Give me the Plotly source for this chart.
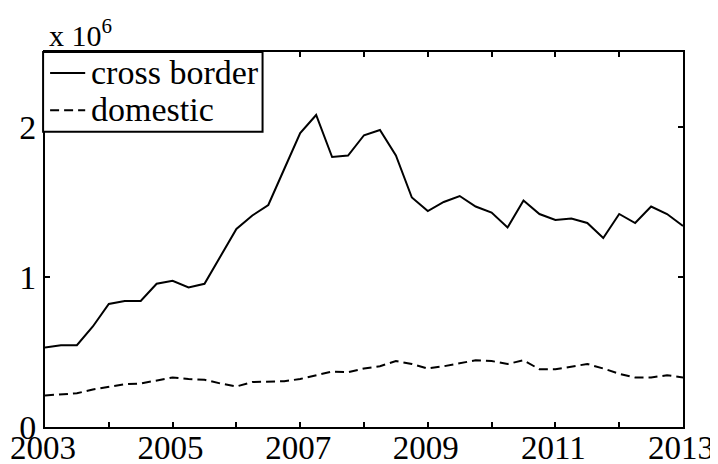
import plotly.graph_objects as go

# quarterly observations, 2003Q1 .. 2013Q1 (values in units of 10^6)
years = [2003 + 0.25 * i for i in range(41)]
cross_border = [0.53, 0.545, 0.545, 0.67, 0.82, 0.84, 0.84, 0.955, 0.975, 0.93,
                0.955, 1.14, 1.32, 1.41, 1.48, 1.72, 1.96, 2.08, 1.80, 1.81,
                1.945, 1.98, 1.81, 1.53, 1.44, 1.50, 1.54, 1.47, 1.43, 1.33,
                1.51, 1.42, 1.38, 1.39, 1.36, 1.26, 1.42, 1.36, 1.47, 1.42,
                1.34]
domestic = [0.21, 0.22, 0.225, 0.25, 0.27, 0.285, 0.29, 0.31, 0.33, 0.32,
            0.315, 0.29, 0.27, 0.30, 0.30, 0.305, 0.32, 0.345, 0.37, 0.365,
            0.39, 0.405, 0.44, 0.42, 0.39, 0.405, 0.425, 0.445, 0.44, 0.42,
            0.445, 0.385, 0.385, 0.40, 0.42, 0.39, 0.355, 0.33, 0.33, 0.345,
            0.33]
series_names = ["cross border", "domestic"]

x_tick_vals = [2003, 2005, 2007, 2009, 2011, 2013]
x_tick_text = ["2003", "2005", "2007", "2009", "2011", "2013"]
y_tick_vals = [0, 1, 2]
y_tick_text = ["0", "1", "2"]

FONT = "Liberation Serif, Times New Roman, Times, serif"
DASH = "9px,5px"

fig = go.Figure()
fig.add_trace(go.Scatter(x=years, y=cross_border, mode="lines", name=series_names[0],
                         line=dict(color="black", width=2), showlegend=False))
fig.add_trace(go.Scatter(x=years, y=domestic, mode="lines", name=series_names[1],
                         line=dict(color="black", width=2, dash=DASH), showlegend=False))

axis_common = dict(showline=True, linecolor="black", linewidth=2, mirror="ticks",
                   ticks="inside", ticklen=5, tickwidth=2, tickcolor="black",
                   showgrid=False, zeroline=False, automargin=False,
                   ticklabeloverflow="allow")

fig.update_xaxes(range=[2003, 2013], tickmode="array", tickvals=x_tick_vals,
                 ticktext=x_tick_text, ticklabelstandoff=-10, ticklabelshift=-2,
                 tickfont=dict(family=FONT, size=33, color="black"),
                 minor=dict(dtick=1, tick0=2003, ticks="inside", ticklen=5,
                            tickwidth=2, tickcolor="black", showgrid=False),
                 **axis_common)
fig.update_yaxes(range=[0, 2.5], tickmode="array", tickvals=y_tick_vals,
                 ticktext=y_tick_text,
                 tickfont=dict(family=FONT, size=34, color="black"),
                 **axis_common)

fig.add_annotation(text="x 10<sup>6</sup>", xref="paper", yref="paper", x=0.003, y=1,
                   xanchor="left", yanchor="bottom", showarrow=False, yshift=-2,
                   font=dict(family=FONT, size=30, color="black"))

# legend box drawn in paper coordinates
box_right, box_bottom = 0.341, 0.7875
fig.add_shape(type="rect", xref="paper", yref="paper", x0=-0.003, x1=box_right,
              y0=box_bottom, y1=1, line=dict(color="black", width=2),
              fillcolor="white", layer="above")
row_y = [0.944, 0.845]
dashes = [None, DASH]
for name, ry, dsh in zip(series_names, row_y, dashes):
    ln = dict(color="black", width=2)
    if dsh:
        ln["dash"] = dsh
    fig.add_shape(type="line", xref="paper", yref="paper", x0=0.008, x1=0.063,
                  y0=ry, y1=ry, line=ln, layer="above")
    fig.add_annotation(text=name, xref="paper", yref="paper", x=0.069, y=ry,
                       xanchor="left", yanchor="middle", showarrow=False, yshift=1,
                       font=dict(family=FONT, size=34, color="black"))

fig.update_layout(
    width=710, height=456,
    margin=dict(l=37, r=35, t=44, b=37, autoexpand=False),
    paper_bgcolor="white", plot_bgcolor="white",
    font=dict(family=FONT, color="black"),
    showlegend=False,
)

fig.write_html("out.html")
